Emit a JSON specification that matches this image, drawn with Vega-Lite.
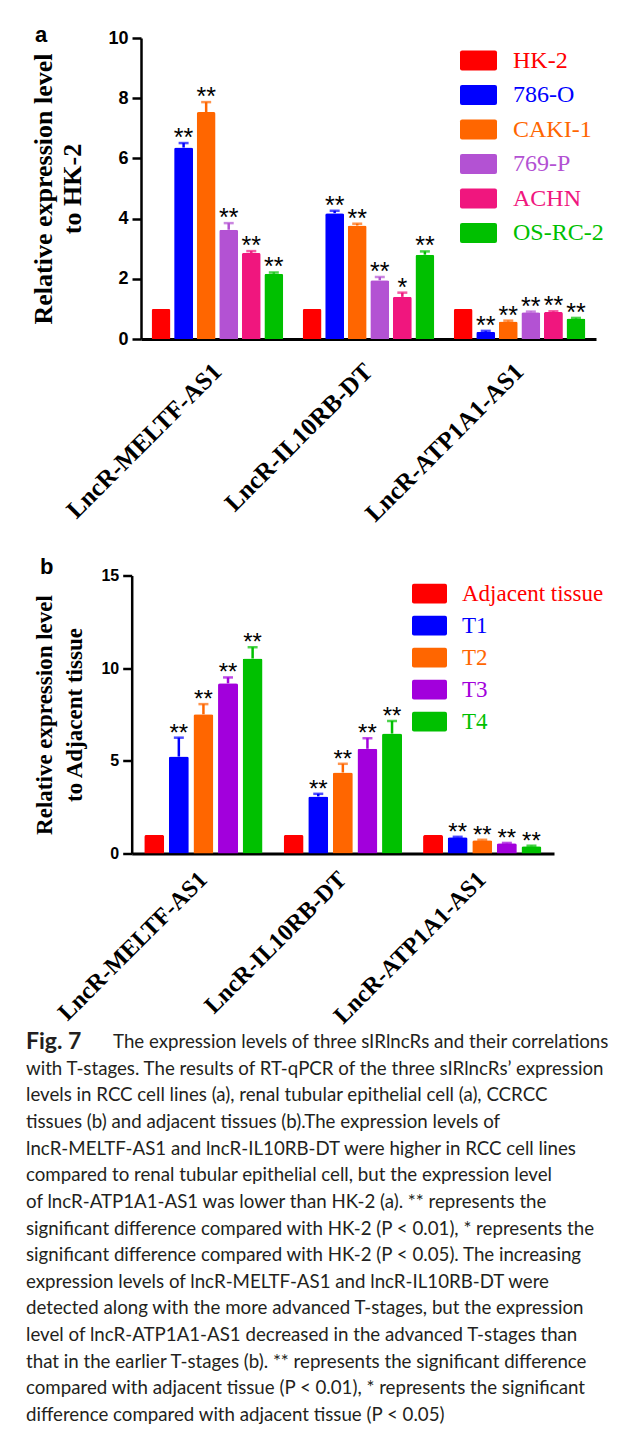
{
  "$schema": "https://vega.github.io/schema/vega-lite/v6.json",
  "background": "white",
  "padding": {"left": 26, "top": 24, "right": 0, "bottom": 0},
  "columns": 1,
  "spacing": 2.5,
  "resolve": {"scale": {"color": "independent", "xOffset": "independent"}, "legend": {"color": "independent"}},
  "config": {"view": {"stroke": null}, "font": "Liberation Sans"},
  "datasets": {
    "a": [
      {"gene": "LncR-MELTF-AS1", "cell": "HK-2", "value": 1.0, "err": 1.0, "sig": ""},
      {"gene": "LncR-MELTF-AS1", "cell": "786-O", "value": 6.36, "err": 6.51, "sig": "**"},
      {"gene": "LncR-MELTF-AS1", "cell": "CAKI-1", "value": 7.54, "err": 7.87, "sig": "**"},
      {"gene": "LncR-MELTF-AS1", "cell": "769-P", "value": 3.63, "err": 3.85, "sig": "**"},
      {"gene": "LncR-MELTF-AS1", "cell": "ACHN", "value": 2.86, "err": 2.92, "sig": "**"},
      {"gene": "LncR-MELTF-AS1", "cell": "OS-RC-2", "value": 2.17, "err": 2.21, "sig": "**"},
      {"gene": "LncR-IL10RB-DT", "cell": "HK-2", "value": 1.0, "err": 1.0, "sig": ""},
      {"gene": "LncR-IL10RB-DT", "cell": "786-O", "value": 4.18, "err": 4.26, "sig": "**"},
      {"gene": "LncR-IL10RB-DT", "cell": "CAKI-1", "value": 3.77, "err": 3.83, "sig": "**"},
      {"gene": "LncR-IL10RB-DT", "cell": "769-P", "value": 1.95, "err": 2.06, "sig": "**"},
      {"gene": "LncR-IL10RB-DT", "cell": "ACHN", "value": 1.4, "err": 1.54, "sig": "*"},
      {"gene": "LncR-IL10RB-DT", "cell": "OS-RC-2", "value": 2.8, "err": 2.91, "sig": "**"},
      {"gene": "LncR-ATP1A1-AS1", "cell": "HK-2", "value": 1.0, "err": 1.0, "sig": ""},
      {"gene": "LncR-ATP1A1-AS1", "cell": "786-O", "value": 0.24, "err": 0.27, "sig": "**"},
      {"gene": "LncR-ATP1A1-AS1", "cell": "CAKI-1", "value": 0.58, "err": 0.61, "sig": "**"},
      {"gene": "LncR-ATP1A1-AS1", "cell": "769-P", "value": 0.89, "err": 0.91, "sig": "**"},
      {"gene": "LncR-ATP1A1-AS1", "cell": "ACHN", "value": 0.9, "err": 0.92, "sig": "**"},
      {"gene": "LncR-ATP1A1-AS1", "cell": "OS-RC-2", "value": 0.68, "err": 0.7, "sig": "**"}
    ],
    "b": [
      {"gene": "LncR-MELTF-AS1", "stage": "Adjacent tissue", "value": 1.0, "err": 1.0, "sig": ""},
      {"gene": "LncR-MELTF-AS1", "stage": "T1", "value": 5.23, "err": 6.25, "sig": "**"},
      {"gene": "LncR-MELTF-AS1", "stage": "T2", "value": 7.51, "err": 8.06, "sig": "**"},
      {"gene": "LncR-MELTF-AS1", "stage": "T3", "value": 9.18, "err": 9.5, "sig": "**"},
      {"gene": "LncR-MELTF-AS1", "stage": "T4", "value": 10.52, "err": 11.13, "sig": "**"},
      {"gene": "LncR-IL10RB-DT", "stage": "Adjacent tissue", "value": 1.0, "err": 1.0, "sig": ""},
      {"gene": "LncR-IL10RB-DT", "stage": "T1", "value": 3.08, "err": 3.22, "sig": "**"},
      {"gene": "LncR-IL10RB-DT", "stage": "T2", "value": 4.37, "err": 4.84, "sig": "**"},
      {"gene": "LncR-IL10RB-DT", "stage": "T3", "value": 5.65, "err": 6.22, "sig": "**"},
      {"gene": "LncR-IL10RB-DT", "stage": "T4", "value": 6.47, "err": 7.15, "sig": "**"},
      {"gene": "LncR-ATP1A1-AS1", "stage": "Adjacent tissue", "value": 1.0, "err": 1.0, "sig": ""},
      {"gene": "LncR-ATP1A1-AS1", "stage": "T1", "value": 0.88, "err": 0.9, "sig": "**"},
      {"gene": "LncR-ATP1A1-AS1", "stage": "T2", "value": 0.72, "err": 0.74, "sig": "**"},
      {"gene": "LncR-ATP1A1-AS1", "stage": "T3", "value": 0.55, "err": 0.57, "sig": "**"},
      {"gene": "LncR-ATP1A1-AS1", "stage": "T4", "value": 0.39, "err": 0.42, "sig": "**"}
    ],
    "caption": [
      {"line": 1, "text": "with T-stages. The results of RT-qPCR of the three sIRlncRs’ expression"},
      {"line": 2, "text": "levels in RCC cell lines (a), renal tubular epithelial cell (a), CCRCC"},
      {"line": 3, "text": "tissues (b) and adjacent tissues (b).The expression levels of"},
      {"line": 4, "text": "lncR-MELTF-AS1 and lncR-IL10RB-DT were higher in RCC cell lines"},
      {"line": 5, "text": "compared to renal tubular epithelial cell, but the expression level"},
      {"line": 6, "text": "of lncR-ATP1A1-AS1 was lower than HK-2 (a). ** represents the"},
      {"line": 7, "text": "significant difference compared with HK-2 (P < 0.01), * represents the"},
      {"line": 8, "text": "significant difference compared with HK-2 (P < 0.05). The increasing"},
      {"line": 9, "text": "expression levels of lncR-MELTF-AS1 and lncR-IL10RB-DT were"},
      {"line": 10, "text": "detected along with the more advanced T-stages, but the expression"},
      {"line": 11, "text": "level of lncR-ATP1A1-AS1 decreased in the advanced T-stages than"},
      {"line": 12, "text": "that in the earlier T-stages (b). ** represents the significant difference"},
      {"line": 13, "text": "compared with adjacent tissue (P < 0.01), * represents the significant"},
      {"line": 14, "text": "difference compared with adjacent tissue (P < 0.05)"}
    ],
    "figlabel": [{"line": 0, "label": "Fig. 7", "rest": "The expression levels of three sIRlncRs and their correlations"}]
  },
  "concat": [
    {
      "width": 455,
      "height": 301,
      "title": {"text": "a", "anchor": "start", "frame": "group", "font": "Liberation Sans", "fontSize": 22, "fontWeight": "bold", "color": "black", "dx": -106, "offset": -18},
      "data": {"name": "a"},
      "encoding": {
        "x": {"field": "gene", "type": "nominal",
          "scale": {"domain": ["LncR-MELTF-AS1", "LncR-IL10RB-DT", "LncR-ATP1A1-AS1"], "paddingInner": 0.128, "paddingOuter": 0.07},
          "axis": {"title": " ", "titleFontSize": 10, "titlePadding": 16, "labelAngle": -45, "labelAlign": "right", "labelBaseline": "middle", "labelFont": "Liberation Serif", "labelFontSize": 25, "labelFontWeight": "bold", "labelColor": "black", "labelLimit": 500, "ticks": false, "labelPadding": 28, "domainColor": "black", "domainWidth": 3}},
        "xOffset": {"field": "cell", "type": "nominal", "scale": {"domain": ["HK-2", "786-O", "CAKI-1", "769-P", "ACHN", "OS-RC-2"], "paddingInner": 0.16, "paddingOuter": 0}}
      },
      "layer": [
        {"mark": {"type": "bar", "cornerRadiusTopLeft": 2, "cornerRadiusTopRight": 2},
          "encoding": {
            "y": {"field": "value", "type": "quantitative", "scale": {"domain": [0, 10], "nice": false},
              "axis": {"title": ["Relative expression level", "to HK-2"], "titleFont": "Liberation Serif", "titleFontSize": 26, "titleFontWeight": "bold", "titleColor": "black", "titleLineHeight": 29, "titlePadding": 22,
                "labelFont": "Liberation Sans", "labelFontSize": 18, "labelFontWeight": "bold", "labelColor": "black", "labelPadding": 4,
                "tickSize": 9, "tickWidth": 2.5, "tickColor": "black", "domainColor": "black", "domainWidth": 2.5, "grid": false, "values": [0, 2, 4, 6, 8, 10]}},
            "color": {"field": "cell", "type": "nominal",
              "scale": {"domain": ["HK-2", "786-O", "CAKI-1", "769-P", "ACHN", "OS-RC-2"], "range": ["#ff0000", "#0000ff", "#ff6600", "#b352d3", "#f0167e", "#00c000"]},
              "legend": {"orient": "none", "legendX": 319, "legendY": 4, "title": null, "padding": 0,
                "symbolType": "M-0.89,-0.54L0.89,-0.54Q1,-0.54,1,-0.43L1,0.43Q1,0.54,0.89,0.54L-0.89,0.54Q-1,0.54,-1,0.43L-1,-0.43Q-1,-0.54,-0.89,-0.54Z",
                "symbolSize": 1369, "symbolStrokeWidth": 0, "symbolOpacity": 1,
                "labelFont": "Liberation Serif", "labelFontSize": 24, "labelOffset": 16, "rowPadding": 3.5, "labelLimit": 300,
                "encode": {"labels": {"update": {"fill": {"signal": "{'HK-2':'#ff0000','786-O':'#0000ff','CAKI-1':'#ff6600','769-P':'#b352d3','ACHN':'#f0167e','OS-RC-2':'#00c000'}[datum.label]"}}}}}}}},
        {"mark": {"type": "rule", "strokeWidth": 2.5},
          "encoding": {"y": {"field": "value", "type": "quantitative", "scale": {"domain": [0, 10], "nice": false}}, "y2": {"field": "err"},
            "color": {"field": "cell", "type": "nominal", "legend": null}}},
        {"transform": [{"filter": "datum.err > datum.value"}],
          "mark": {"type": "tick", "orient": "horizontal", "thickness": 2.5, "size": 10},
          "encoding": {"y": {"field": "err", "type": "quantitative", "scale": {"domain": [0, 10], "nice": false}},
            "color": {"field": "cell", "type": "nominal", "legend": null}}},
        {"mark": {"type": "text", "font": "Liberation Sans", "fontSize": 25, "baseline": "alphabetic", "dy": 3, "color": "black"},
          "encoding": {"y": {"field": "err", "type": "quantitative", "scale": {"domain": [0, 10], "nice": false}}, "text": {"field": "sig"}}}
      ]
    },
    {
      "width": 413,
      "height": 278,
      "title": {"text": "b", "anchor": "start", "frame": "group", "font": "Liberation Sans", "fontSize": 22, "fontWeight": "bold", "color": "black", "dx": -101, "offset": -11},
      "data": {"name": "b"},
      "encoding": {
        "x": {"field": "gene", "type": "nominal",
          "scale": {"domain": ["LncR-MELTF-AS1", "LncR-IL10RB-DT", "LncR-ATP1A1-AS1"], "range": [-9.3, 413], "paddingInner": 0.151, "paddingOuter": 0.09},
          "axis": {"title": null, "labelAngle": -45, "labelAlign": "right", "labelBaseline": "middle", "labelFont": "Liberation Serif", "labelFontSize": 24, "labelFontWeight": "bold", "labelColor": "black", "labelLimit": 500, "ticks": false, "labelPadding": 22, "domainColor": "black", "domainWidth": 3}},
        "xOffset": {"field": "stage", "type": "nominal", "scale": {"domain": ["Adjacent tissue", "T1", "T2", "T3", "T4"], "paddingInner": 0.187, "paddingOuter": 0}}
      },
      "layer": [
        {"mark": {"type": "bar", "cornerRadiusTopLeft": 2, "cornerRadiusTopRight": 2},
          "encoding": {
            "y": {"field": "value", "type": "quantitative", "scale": {"domain": [0, 15], "nice": false},
              "axis": {"offset": 9.3, "title": ["Relative expression level", "to Adjacent tissue"], "titleFont": "Liberation Serif", "titleFontSize": 23, "titleFontWeight": "bold", "titleColor": "black", "titleLineHeight": 30, "titlePadding": 14,
                "labelFont": "Liberation Sans", "labelFontSize": 16, "labelFontWeight": "bold", "labelColor": "black", "labelPadding": 4,
                "tickSize": 9, "tickWidth": 2.5, "tickColor": "black", "domainColor": "black", "domainWidth": 2.5, "grid": false, "values": [0, 5, 10, 15]}},
            "color": {"field": "stage", "type": "nominal",
              "scale": {"domain": ["Adjacent tissue", "T1", "T2", "T3", "T4"], "range": ["#ff0000", "#0000ff", "#ff6600", "#a200dc", "#00c000"]},
              "legend": {"orient": "none", "legendX": 271, "legendY": 0.6, "title": null, "padding": 0,
                "symbolType": "M-0.89,-0.56L0.89,-0.56Q1,-0.56,1,-0.45L1,0.45Q1,0.56,0.89,0.56L-0.89,0.56Q-1,0.56,-1,0.45L-1,-0.45Q-1,-0.56,-0.89,-0.56Z",
                "symbolSize": 1225, "symbolStrokeWidth": 0, "symbolOpacity": 1,
                "labelFont": "Liberation Serif", "labelFontSize": 23, "labelOffset": 15, "rowPadding": 2, "labelLimit": 300,
                "encode": {"labels": {"update": {"fill": {"signal": "{'Adjacent tissue':'#ff0000','T1':'#0000ff','T2':'#ff6600','T3':'#a200dc','T4':'#00c000'}[datum.label]"}}}}}}}},
        {"mark": {"type": "rule", "strokeWidth": 2.5},
          "encoding": {"y": {"field": "value", "type": "quantitative", "scale": {"domain": [0, 15], "nice": false}}, "y2": {"field": "err"},
            "color": {"field": "stage", "type": "nominal", "legend": null}}},
        {"transform": [{"filter": "datum.err > datum.value"}],
          "mark": {"type": "tick", "orient": "horizontal", "thickness": 2.5, "size": 10},
          "encoding": {"y": {"field": "err", "type": "quantitative", "scale": {"domain": [0, 15], "nice": false}},
            "color": {"field": "stage", "type": "nominal", "legend": null}}},
        {"mark": {"type": "text", "font": "Liberation Sans", "fontSize": 24, "baseline": "alphabetic", "dy": 3, "color": "black"},
          "encoding": {"y": {"field": "err", "type": "quantitative", "scale": {"domain": [0, 15], "nice": false}}, "text": {"field": "sig"}}}
      ]
    },
    {
      "width": 580,
      "height": 373,
      "layer": [
        {"data": {"name": "caption"},
          "mark": {"type": "text", "align": "left", "baseline": "middle", "font": "Lato", "fontSize": 18.7, "color": "#231f20", "dx": -115},
          "encoding": {
            "x": {"datum": 0, "type": "quantitative", "scale": {"domain": [0, 1]}, "axis": null},
            "y": {"field": "line", "type": "quantitative", "scale": {"domain": [0, 14], "reverse": true}, "axis": null},
            "text": {"field": "text"}}},
        {"data": {"name": "figlabel"},
          "mark": {"type": "text", "align": "left", "baseline": "middle", "font": "Lato", "fontSize": 23, "fontWeight": "bold", "color": "#231f20", "dx": -115},
          "encoding": {
            "x": {"datum": 0, "type": "quantitative"},
            "y": {"field": "line", "type": "quantitative"},
            "text": {"field": "label"}}},
        {"data": {"name": "figlabel"},
          "mark": {"type": "text", "align": "left", "baseline": "middle", "font": "Lato", "fontSize": 18.7, "color": "#231f20", "dx": -28},
          "encoding": {
            "x": {"datum": 0, "type": "quantitative"},
            "y": {"field": "line", "type": "quantitative"},
            "text": {"field": "rest"}}}
      ]
    }
  ]
}
